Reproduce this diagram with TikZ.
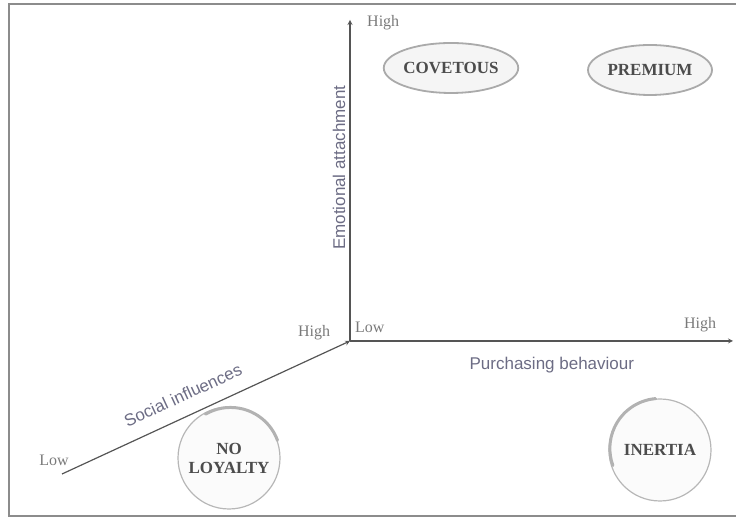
\documentclass[tikz,border=0pt]{standalone}
\usepackage{fontspec}
\setmainfont{Liberation Serif}
\setsansfont{Liberation Sans}
\usetikzlibrary{shapes.geometric}
\definecolor{axisgray}{HTML}{555555}
\definecolor{titleblue}{HTML}{6C6C84}
\definecolor{levelgray}{HTML}{7A7A7A}
\definecolor{rimgray}{HTML}{AAAAAA}
\definecolor{framegray}{HTML}{8C8C8C}
\tikzset{
  axis/.style={draw=axisgray,line width=1.2pt,-stealth},
  axislabel/.style={font=\sffamily\fontsize{17}{19}\selectfont,text=titleblue,inner sep=0pt},
  levellabel/.style={font=\fontsize{16}{18}\selectfont,text=levelgray,inner sep=0pt},
  oval/.style={ellipse,draw=rimgray,line width=1.8pt,fill=gray!8,minimum width=124pt,minimum height=50pt,inner sep=0pt,font=\bfseries\fontsize{17}{19}\selectfont,text=black!70},
  disc/.style={circle,draw=rimgray!85,line width=1.2pt,fill=gray!3,minimum size=102pt,inner sep=0pt,align=center,font=\bfseries\fontsize{17}{19}\selectfont,text=black!70},
  rim/.style={draw=gray!60,line width=3pt,line cap=round}
}
\begin{document}
\begin{tikzpicture}[x=1pt,y=1pt]
\useasboundingbox (0,0) rectangle (736,518);
%Frame (open on the right)
\draw[framegray,line width=1.5pt] (736,514) -- (9,514) -- (9,2) -- (736,2);
%Axes
\coordinate (O) at (350,177);
\coordinate (Etop) at (350,498);
\coordinate (Pend) at (733,177);
\coordinate (Slow) at (62,44);
\draw[axis] (O) -- (Etop) node[axislabel,pos=0.54,sloped,above=4pt] (emo) {Emotional attachment};
\draw[axis] (O) -- (Pend) node[axislabel,pos=0.527,below=16pt] (pur) {Purchasing behaviour};
\draw[axis] (Slow) -- (O) node[axislabel,pos=0.45,sloped,above=14pt] (soc) {Social influences};
%Levels
\node[levellabel,anchor=west] (ehigh) at (367,495) {High};
\node[levellabel,anchor=west] (plow) at (355,191) {Low};
\node[levellabel] (phigh) at (700,193) {High};
\node[levellabel] (shigh) at (314,185) {High};
\node[levellabel] (slow) at (54,58) {Low};
%Segments
\node[oval] (covetous) at (451,450) {COVETOUS};
\node[oval] (premium) at (650,448) {PREMIUM};
\node[disc] (noloyalty) at (229,60) {NO\\LOYALTY};
\node[disc] (inertia) at (660,68) {INERTIA};
\draw[rim] (noloyalty.20) arc (20:120:50);
\draw[rim] (inertia.95) arc (95:200:50);
\end{tikzpicture}
\end{document}
